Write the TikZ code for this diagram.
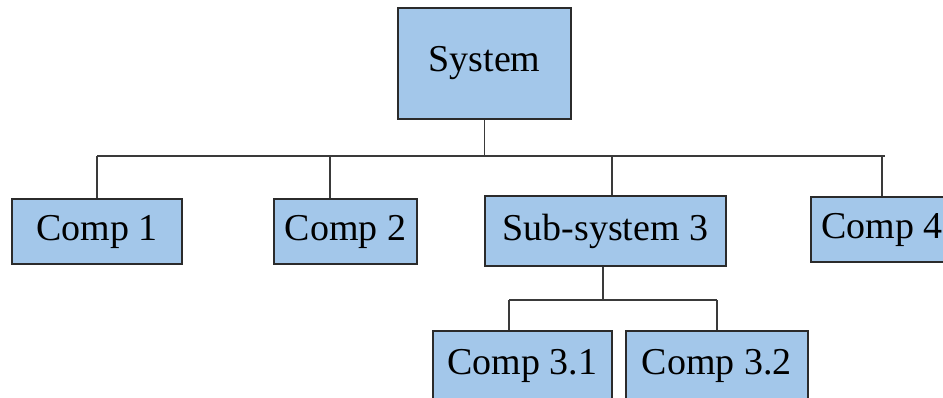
\documentclass[tikz,border=0pt]{standalone}
\usepackage{fontspec}
\setmainfont{Liberation Serif}
\usepackage{tikz}
\usetikzlibrary{
  calc,
  positioning
}
\definecolor{ink}{HTML}{2B2B2B}
\definecolor{wire}{HTML}{3A3A3A}
\definecolor{boxblue}{HTML}{A3C7EA}
\tikzset{
  block/.style={
    draw=ink,
    fill=boxblue,
    line width=1.2pt,
    inner sep=0pt,
    align=center,
    font=\fontsize{27}{30}\selectfont
  },
  link/.style={
    draw=wire,
    line width=1.1pt
  }
}

\begin{document}
\begin{tikzpicture}[x=0.025cm, y=-0.025cm]
    \useasboundingbox[fill=white] (0,0) rectangle (943,397);
    % top level
    \node[block, minimum width=4.325cm, minimum height=2.775cm] (system) at (484.5,63.5) {System};
    \node[block, minimum width=4.25cm, minimum height=1.625cm] (comp1) at (97,231.5) {Comp 1};
    \node[block, minimum width=3.575cm, minimum height=1.625cm] (comp2) at (345.5,231.5) {Comp 2};
    \node[block, minimum width=6.025cm, minimum height=1.75cm] (sub3) at (605.5,231) {Sub-system 3};
    \node[block, minimum width=3.55cm, minimum height=1.625cm] (comp4) at (882,229.5) {Comp 4};
    % second level
    \node[block, minimum width=4.475cm, minimum height=1.75cm] (comp31) at (522.5,366) {Comp 3.1};
    \node[block, minimum width=4.55cm, minimum height=1.75cm, right=0.3cm of comp31] (comp32) {Comp 3.2};
    % bus coordinates
    \coordinate (bus) at (483,156);
    \coordinate (drop2) at (330,156);
    \coordinate (drop3) at (612,156);
    \coordinate (subbus) at (603,300);
    \coordinate (drop31) at (509,300);
    \draw[link] (system.south) -- (system.south |- bus);
    \draw[link] (comp1.north |- bus) -- (885,156);
    \draw[link] (comp1.north |- bus) -- (comp1.north);
    \draw[link] (drop2) -- (drop2 |- comp2.north);
    \draw[link] (drop3) -- (drop3 |- sub3.north);
    \draw[link] (comp4.north |- bus) -- (comp4.north);
    \draw[link] (subbus |- sub3.south) -- (subbus);
    \draw[link] (drop31) -- (comp32.north |- subbus);
    \draw[link] (drop31) -- (drop31 |- comp31.north);
    \draw[link] (comp32.north |- subbus) -- (comp32.north);
  \end{tikzpicture}
\end{document}
